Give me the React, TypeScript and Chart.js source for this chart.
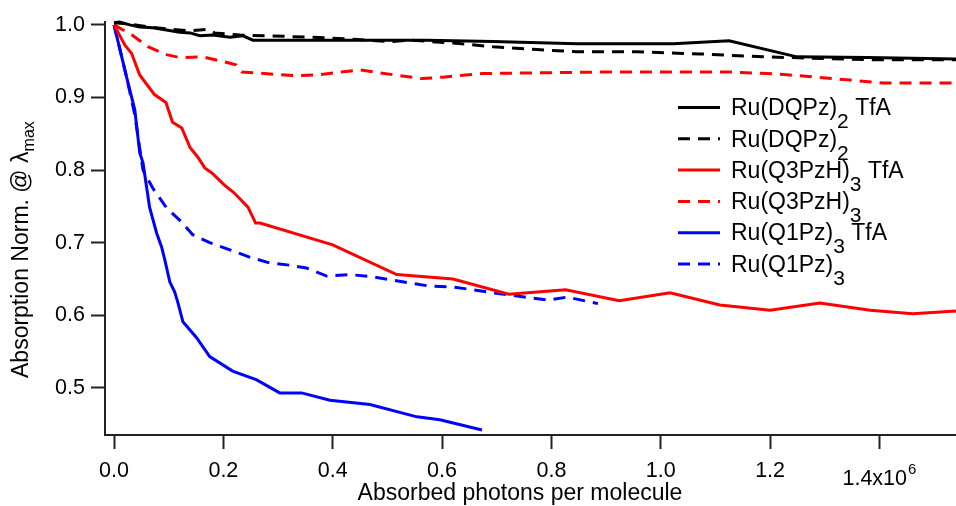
import React, { useEffect, useRef } from 'react';
import { Chart, registerables } from 'chart.js';

Chart.register(...registerables);

const FONT = 'Arial, "Liberation Sans", Helvetica, sans-serif';

// axis ticks (x in units of 10^6 photons)
const xTicks = [0, 0.2, 0.4, 0.6, 0.8, 1.0, 1.2, 1.4];
const yTicks = [0.5, 0.6, 0.7, 0.8, 0.9, 1.0];
const xMin = -0.0165;
const xMax = 1.54;
const yMin = 0.435;
const yMax = 1.004;

// Ru(DQPz)2 TfA
const dqpzTfaX = [0, 0.010, 0.029, 0.047, 0.071, 0.096, 0.120, 0.139, 0.157, 0.181, 0.212, 0.236, 0.254, 0.376, 0.572, 0.693, 0.847, 1.023, 1.125, 1.249, 1.377, 1.540];
const dqpzTfaY = [1.003, 1.004, 1.000, 0.997, 0.996, 0.993, 0.990, 0.989, 0.985, 0.986, 0.983, 0.985, 0.979, 0.979, 0.979, 0.977, 0.974, 0.974, 0.978, 0.956, 0.955, 0.953];

// Ru(DQPz)2
const dqpzX = [0, 0.029, 0.065, 0.102, 0.139, 0.170, 0.184, 0.230, 0.282, 0.395, 0.505, 0.541, 0.620, 0.693, 0.774, 0.847, 0.956, 1.072, 1.187, 1.388, 1.540];
const dqpzY = [1.003, 1.001, 0.997, 0.994, 0.992, 0.994, 0.989, 0.986, 0.985, 0.982, 0.977, 0.979, 0.975, 0.970, 0.966, 0.963, 0.963, 0.960, 0.956, 0.952, 0.952];

// Ru(Q3PzH)3 TfA
const q3TfaX = [0, 0.020, 0.032, 0.047, 0.074, 0.095, 0.107, 0.124, 0.139, 0.153, 0.166, 0.179, 0.201, 0.219, 0.245, 0.259, 0.267, 0.400, 0.517, 0.620, 0.722, 0.826, 0.924, 1.017, 1.108, 1.200, 1.291, 1.383, 1.461, 1.540];
const q3TfaY = [1.0, 0.972, 0.961, 0.931, 0.904, 0.893, 0.866, 0.858, 0.831, 0.818, 0.803, 0.796, 0.780, 0.769, 0.749, 0.727, 0.727, 0.697, 0.656, 0.650, 0.629, 0.635, 0.620, 0.631, 0.614, 0.607, 0.617, 0.607, 0.602, 0.606];

// Ru(Q3PzH)3
const q3X = [0, 0.033, 0.062, 0.096, 0.120, 0.162, 0.197, 0.223, 0.234, 0.254, 0.334, 0.371, 0.413, 0.450, 0.486, 0.523, 0.563, 0.601, 0.675, 0.779, 0.889, 1.072, 1.132, 1.194, 1.236, 1.346, 1.407, 1.469, 1.540];
const q3Y = [1.0, 0.986, 0.970, 0.959, 0.955, 0.956, 0.950, 0.945, 0.935, 0.934, 0.930, 0.931, 0.935, 0.938, 0.934, 0.930, 0.926, 0.928, 0.933, 0.934, 0.935, 0.935, 0.935, 0.933, 0.931, 0.924, 0.920, 0.920, 0.920];

// Ru(Q1Pz)3 TfA
const q1TfaX = [0, 0.023, 0.038, 0.047, 0.053, 0.065, 0.078, 0.087, 0.093, 0.102, 0.111, 0.117, 0.126, 0.151, 0.175, 0.217, 0.261, 0.303, 0.343, 0.395, 0.468, 0.554, 0.596, 0.673];
const q1TfaY = [1.0, 0.928, 0.883, 0.824, 0.810, 0.749, 0.713, 0.694, 0.676, 0.646, 0.632, 0.617, 0.591, 0.569, 0.543, 0.523, 0.511, 0.493, 0.493, 0.483, 0.477, 0.460, 0.456, 0.442];

// Ru(Q1Pz)3
const q1X = [0, 0.023, 0.038, 0.053, 0.071, 0.096, 0.120, 0.144, 0.175, 0.212, 0.248, 0.285, 0.321, 0.352, 0.389, 0.431, 0.473, 0.505, 0.578, 0.620, 0.693, 0.761, 0.794, 0.829, 0.885];
const q1Y = [1.0, 0.928, 0.876, 0.800, 0.775, 0.748, 0.731, 0.711, 0.700, 0.690, 0.680, 0.672, 0.669, 0.665, 0.654, 0.656, 0.653, 0.649, 0.640, 0.639, 0.631, 0.624, 0.621, 0.625, 0.616];

// legend text pieces
const legendMain = ['Ru(DQPz)', 'Ru(DQPz)', 'Ru(Q3PzH)', 'Ru(Q3PzH)', 'Ru(Q1Pz)', 'Ru(Q1Pz)'];
const legendSub = ['2', '2', '3', '3', '3', '3'];
const legendSuffix = [' TfA', '', ' TfA', '', ' TfA', ''];
const seriesColors = ['#000000', '#000000', '#ff0000', '#ff0000', '#0000ff', '#0000ff'];
const seriesDashed = [false, true, false, true, false, true];

const xTitle = 'Absorbed photons per molecule';
const yTitleMain = 'Absorption Norm. @ ';
const yTitleGreek = 'λ';
const yTitleSub = 'max';

const seriesXs = [dqpzTfaX, dqpzX, q3TfaX, q3X, q1TfaX, q1X];
const seriesYs = [dqpzTfaY, dqpzY, q3TfaY, q3Y, q1TfaY, q1Y];

const DASH = [12, 8];

const textPlugin = {
  id: 'customText',
  afterDraw(chart: any) {
    const ctx = chart.ctx as CanvasRenderingContext2D;
    ctx.save();
    // legend
    const lx0 = 678;
    const lx1 = 720;
    const tx = 731;
    const ly0 = 107.5;
    const lstep = 31.3;
    for (let i = 0; i < legendMain.length; i++) {
      const y = ly0 + i * lstep;
      ctx.strokeStyle = seriesColors[i];
      ctx.lineWidth = 3;
      ctx.setLineDash(seriesDashed[i] ? DASH : []);
      ctx.beginPath();
      ctx.moveTo(lx0, y);
      ctx.lineTo(lx1, y);
      ctx.stroke();
      ctx.setLineDash([]);
      ctx.fillStyle = '#000';
      ctx.textAlign = 'left';
      ctx.textBaseline = 'alphabetic';
      ctx.font = `23px ${FONT}`;
      const base = y + 7.7;
      ctx.fillText(legendMain[i], tx, base);
      let x = tx + ctx.measureText(legendMain[i]).width;
      ctx.font = `21px ${FONT}`;
      ctx.fillText(legendSub[i], x, base + 13);
      x += ctx.measureText(legendSub[i]).width;
      if (legendSuffix[i]) {
        ctx.font = `23px ${FONT}`;
        ctx.fillText(legendSuffix[i], x, base);
      }
    }
    // x title
    ctx.font = `23px ${FONT}`;
    ctx.textAlign = 'center';
    ctx.fillText(xTitle, 520, 500);
    // 1.4x10^6 label
    const px = chart.scales.x.getPixelForValue(1.4);
    ctx.textAlign = 'left';
    ctx.font = `21.5px ${FONT}`;
    const mainLab = '1.4x10';
    const w = ctx.measureText(mainLab).width;
    const sx = px - 37;
    ctx.fillText(mainLab, sx, 485);
    ctx.font = `15px ${FONT}`;
    ctx.fillText('6', sx + w + 1, 474);
    // y title
    ctx.save();
    ctx.translate(28, 378);
    ctx.rotate(-Math.PI / 2);
    ctx.font = `23px ${FONT}`;
    ctx.textAlign = 'left';
    ctx.fillText(yTitleMain, 0, 0);
    let yx = ctx.measureText(yTitleMain).width;
    ctx.fillText(yTitleGreek, yx, 0);
    yx += ctx.measureText(yTitleGreek).width;
    ctx.font = `16px ${FONT}`;
    ctx.fillText(yTitleSub, yx, 6);
    ctx.restore();
    ctx.restore();
  },
};

export default function App() {
  const ref = useRef<HTMLCanvasElement | null>(null);
  useEffect(() => {
    if (!ref.current) return;
    const datasets = seriesXs.map((xs, i) => ({
      label: legendMain[i] + legendSub[i] + legendSuffix[i],
      data: xs.map((x, j) => ({ x, y: seriesYs[i][j] })),
      borderColor: seriesColors[i],
      backgroundColor: seriesColors[i],
      borderWidth: 3,
      borderDash: seriesDashed[i] ? DASH : [],
      pointRadius: 0,
      tension: 0,
      fill: false,
      clip: false as any,
    }));
    const chart = new Chart(ref.current, {
      type: 'line',
      data: { datasets },
      plugins: [textPlugin],
      options: {
        responsive: false,
        animation: false,
        layout: { padding: { top: 22, right: 0, left: 0, bottom: 0 } },
        plugins: { legend: { display: false }, tooltip: { enabled: false }, title: { display: false } },
        scales: {
          x: {
            type: 'linear',
            min: xMin,
            max: xMax,
            afterBuildTicks: (s: any) => { s.ticks = xTicks.map((v) => ({ value: v })); },
            afterFit: (s: any) => { s.height = 71; },
            ticks: {
              color: '#000',
              font: { family: FONT, size: 21.5 },
              padding: 9,
              maxRotation: 0,
              autoSkip: false,
              callback: (v: any) => (Math.abs(Number(v) - 1.4) < 1e-9 ? '' : Number(v).toFixed(1)),
            },
            grid: { display: true, drawOnChartArea: false, drawTicks: true, tickLength: 14, tickColor: '#222', tickWidth: 2 },
            border: { display: true, color: '#222', width: 2 },
          },
          y: {
            type: 'linear',
            min: yMin,
            max: yMax,
            afterBuildTicks: (s: any) => { s.ticks = yTicks.map((v) => ({ value: v })); },
            afterFit: (s: any) => { s.width = 105; },
            ticks: {
              color: '#000',
              font: { family: FONT, size: 21.5 },
              padding: 6,
              autoSkip: false,
              callback: (v: any) => Number(v).toFixed(1),
            },
            grid: { display: true, drawOnChartArea: false, drawTicks: true, tickLength: 14, tickColor: '#222', tickWidth: 2 },
            border: { display: true, color: '#222', width: 2 },
          },
        },
      } as any,
    });
    return () => chart.destroy();
  }, []);
  return (
    <div style={{ position: 'absolute', left: 0, top: 0, width: 956, height: 506, background: '#fff' }}>
      <canvas ref={ref} width={956} height={506} style={{ display: 'block' }} />
    </div>
  );
}
